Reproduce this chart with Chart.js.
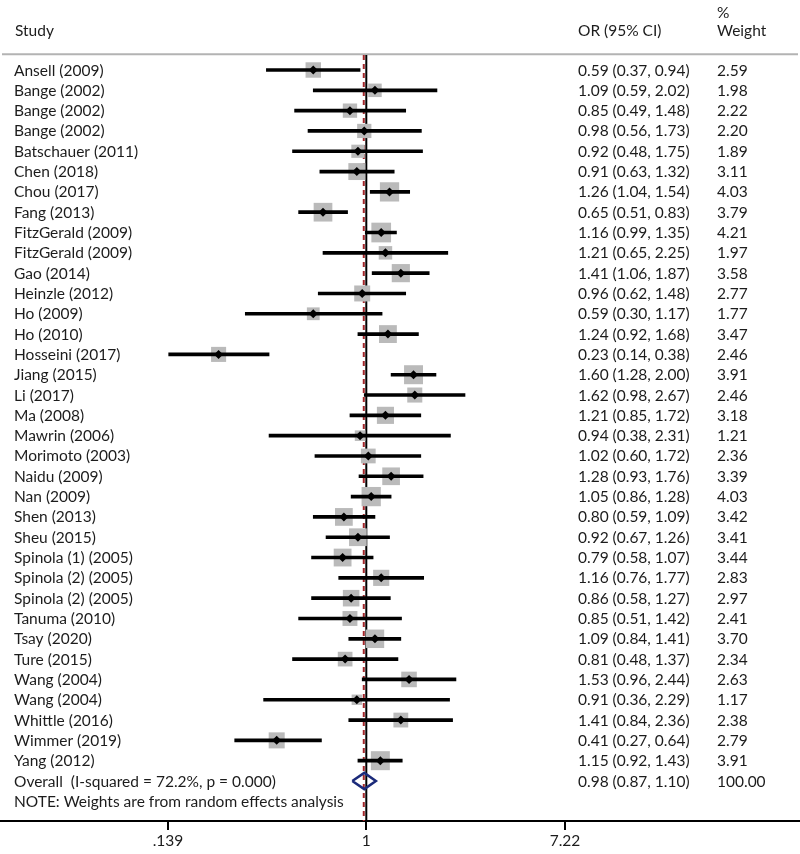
<!DOCTYPE html>
<html>
<head>
<meta charset="utf-8">
<script src="https://cdn.jsdelivr.net/npm/chart.js@4.4.0/dist/chart.umd.min.js"></script>
<style>
  html, body { margin: 0; padding: 0; background: #fff; }
</style>
</head>
<body>
<canvas id="forest" width="800" height="854"></canvas>
<script>
const studies = [
  "Ansell (2009)", "Bange (2002)", "Bange (2002)", "Bange (2002)", "Batschauer (2011)",
  "Chen (2018)", "Chou (2017)", "Fang (2013)", "FitzGerald (2009)", "FitzGerald (2009)",
  "Gao (2014)", "Heinzle (2012)", "Ho (2009)", "Ho (2010)", "Hosseini (2017)",
  "Jiang (2015)", "Li (2017)", "Ma (2008)", "Mawrin (2006)", "Morimoto (2003)",
  "Naidu (2009)", "Nan (2009)", "Shen (2013)", "Sheu (2015)", "Spinola (1) (2005)",
  "Spinola (2) (2005)", "Spinola (2) (2005)", "Tanuma (2010)", "Tsay (2020)", "Ture (2015)",
  "Wang (2004)", "Wang (2004)", "Whittle (2016)", "Wimmer (2019)", "Yang (2012)"
];
const oddsRatio = [0.59, 1.09, 0.85, 0.98, 0.92, 0.91, 1.26, 0.65, 1.16, 1.21,
  1.41, 0.96, 0.59, 1.24, 0.23, 1.60, 1.62, 1.21, 0.94, 1.02,
  1.28, 1.05, 0.80, 0.92, 0.79, 1.16, 0.86, 0.85, 1.09, 0.81,
  1.53, 0.91, 1.41, 0.41, 1.15];
const lower = [0.37, 0.59, 0.49, 0.56, 0.48, 0.63, 1.04, 0.51, 0.99, 0.65,
  1.06, 0.62, 0.30, 0.92, 0.14, 1.28, 0.98, 0.85, 0.38, 0.60,
  0.93, 0.86, 0.59, 0.67, 0.58, 0.76, 0.58, 0.51, 0.84, 0.48,
  0.96, 0.36, 0.84, 0.27, 0.92];
const upper = [0.94, 2.02, 1.48, 1.73, 1.75, 1.32, 1.54, 0.83, 1.35, 2.25,
  1.87, 1.48, 1.17, 1.68, 0.38, 2.00, 2.67, 1.72, 2.31, 1.72,
  1.76, 1.28, 1.09, 1.26, 1.07, 1.77, 1.27, 1.42, 1.41, 1.37,
  2.44, 2.29, 2.36, 0.64, 1.43];
const weights = [2.59, 1.98, 2.22, 2.20, 1.89, 3.11, 4.03, 3.79, 4.21, 1.97,
  3.58, 2.77, 1.77, 3.47, 2.46, 3.91, 2.46, 3.18, 1.21, 2.36,
  3.39, 4.03, 3.42, 3.41, 3.44, 2.83, 2.97, 2.41, 3.70, 2.34,
  2.63, 1.17, 2.38, 2.79, 3.91];
const overall = { or: 0.98, lower: 0.87, upper: 1.10, weight: "100.00" };
const overallLabel = "Overall  (I-squared = 72.2%, p = 0.000)";
const noteText = "NOTE: Weights are from random effects analysis";
const xTicks = [0.139, 1, 7.22];
const xTickLabels = [".139", "1", "7.22"];

const FONT = "15.5px Lato";
const TEXT = "#1c1c1c";
const overallRow = studies.length;

function ciText(o, l, u) {
  return o.toFixed(2) + " (" + l.toFixed(2) + ", " + u.toFixed(2) + ")";
}

const forestDecor = {
  id: "forestDecor",
  beforeDatasetsDraw(chart) {
    const { ctx, chartArea, scales: { x, y } } = chart;
    const ruleY = y.getPixelForValue(-0.77);
    const topY = y.getPixelForValue(-0.74);
    ctx.save();
    // header rule
    ctx.strokeStyle = "#b3b3b3";
    ctx.lineWidth = 2;
    ctx.beginPath();
    ctx.moveTo(2, ruleY);
    ctx.lineTo(798, ruleY);
    ctx.stroke();
    // null line
    const x1 = x.getPixelForValue(1);
    ctx.strokeStyle = "#000";
    ctx.lineWidth = 2;
    ctx.beginPath();
    ctx.moveTo(x1, topY);
    ctx.lineTo(x1, chartArea.bottom);
    ctx.stroke();
    // overall effect line
    const xo = x.getPixelForValue(overall.or) - 0.5;
    ctx.strokeStyle = "#a3262a";
    ctx.setLineDash([5, 4]);
    ctx.beginPath();
    ctx.moveTo(xo, topY);
    ctx.lineTo(xo, chartArea.bottom);
    ctx.stroke();
    ctx.restore();
  },
  afterDraw(chart) {
    const { ctx, scales: { y } } = chart;
    const base = v => y.getPixelForValue(v) + 5.5;
    ctx.save();
    ctx.font = FONT;
    ctx.fillStyle = TEXT;
    ctx.textBaseline = "alphabetic";
    ctx.textAlign = "left";
    ctx.fillText("Study", 15, base(-1.92));
    ctx.fillText("OR (95% CI)", 578, base(-1.92));
    ctx.fillText("%", 717, base(-2.83));
    ctx.fillText("Weight", 717, base(-1.92));
    studies.forEach((s, i) => {
      ctx.fillText(s, 14, base(i));
      ctx.fillText(ciText(oddsRatio[i], lower[i], upper[i]), 578, base(i));
      ctx.fillText(weights[i].toFixed(2), 717, base(i));
    });
    ctx.fillText(overallLabel, 14, base(overallRow));
    ctx.fillText(ciText(overall.or, overall.lower, overall.upper), 578, base(overallRow));
    ctx.fillText(overall.weight, 717, base(overallRow));
    ctx.fillText(noteText, 14, base(overallRow + 1.03));
    ctx.restore();
  }
};

function draw() {
  const ctx = document.getElementById("forest").getContext("2d");
  const rows = studies.map((s, i) => i);
  const dh = 0.4;
  const boxRadius = weights.map(w => 9.6 * Math.sqrt(w) / Math.SQRT2);

  new Chart(ctx, {
    type: "scatter",
    data: {
      datasets: [
        {
          label: "weight",
          data: rows.map(i => ({ x: oddsRatio[i], y: i })),
          pointStyle: "rect",
          pointRadius: boxRadius,
          pointHoverRadius: boxRadius,
          backgroundColor: "#bababa",
          borderWidth: 0,
          order: 3
        },
        {
          type: "bar",
          label: "ci",
          indexAxis: "y",
          data: rows.map(i => ({ x: [lower[i], upper[i]], y: i })),
          backgroundColor: "#000",
          borderWidth: 0,
          barThickness: 3,
          order: 2
        },
        {
          label: "or",
          data: rows.map(i => ({ x: oddsRatio[i], y: i })),
          pointStyle: "rectRot",
          pointRadius: 4.5,
          backgroundColor: "#000",
          borderWidth: 0,
          order: 1
        },
        {
          type: "line",
          label: "overall",
          data: [
            { x: overall.lower, y: overallRow },
            { x: overall.or, y: overallRow - dh },
            { x: overall.upper, y: overallRow },
            { x: overall.or, y: overallRow + dh },
            { x: overall.lower, y: overallRow }
          ],
          borderColor: "#1b2a7a",
          borderWidth: 2.5,
          borderJoinStyle: "miter",
          pointRadius: 0,
          fill: false,
          tension: 0,
          order: 0
        }
      ]
    },
    options: {
      responsive: false,
      animation: false,
      devicePixelRatio: 1,
      layout: { padding: 0, autoPadding: false },
      plugins: { legend: { display: false }, tooltip: { enabled: false } },
      scales: {
        x: {
          type: "logarithmic",
          min: 0.02613,
          max: 74.84,
          afterBuildTicks: s => { s.ticks = xTicks.map(v => ({ value: v })); },
          afterFit: s => { s.height = 33; },
          grid: { drawOnChartArea: false, drawTicks: true, tickLength: 9, color: "#000", lineWidth: 2 },
          border: { display: true, color: "#000", width: 2 },
          ticks: {
            callback: (v, i) => xTickLabels[i],
            font: { family: "Lato", size: 15.5 },
            color: TEXT,
            padding: 2,
            maxRotation: 0,
            autoSkip: false
          }
        },
        y: {
          type: "linear",
          reverse: true,
          min: -3.446,
          max: 36.969,
          offset: false,
          display: false
        }
      }
    },
    plugins: [forestDecor]
  });
}

if (document.fonts && document.fonts.load) {
  document.fonts.load(FONT).then(draw, draw);
} else {
  draw();
}
</script>
</body>
</html>
